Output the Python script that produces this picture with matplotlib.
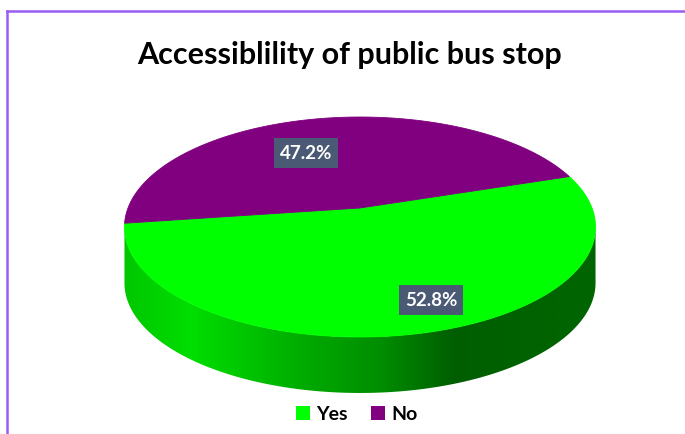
import numpy as np
import matplotlib.pyplot as plt
from matplotlib.patches import Polygon, Patch
from matplotlib.lines import Line2D
from matplotlib.colors import LinearSegmentedColormap, to_rgb

# data
labels = ['Yes', 'No']
shares = [52.8, 47.2]
colors = ['#00FF00', '#800080']
title = 'Accessiblility of public bus stop'

# where the value boxes sit (pixels)
label_xy = [(431, 301), (306, 154)]

W, H = 685, 435
fig = plt.figure(figsize=(W / 100, H / 100), dpi=100)
ax = fig.add_axes([0, 0, 1, 1])
ax.axis('off')

# pie geometry in pixels, with a bit of perspective (far side shrinks)
cx, cy = 360, 209
R, Rs, k = 232, 106.7, 0.1727
depth = 56
start = 188.0


def project(t_deg, r=1.0):
    t = np.radians(t_deg)
    u, v = r * np.cos(t), r * np.sin(t)
    w = 1 + k * v
    return cx + R * u / w, cy - Rs * v / w


# slice angles (counter-clockwise from start)
spans = np.array(shares) / sum(shares) * 360.0
edges = start + np.concatenate([[0], np.cumsum(spans)])

# visible part of the rim: between the left and right silhouette points
t_left = 180 + np.degrees(np.arcsin(k))
t_right = 360 - np.degrees(np.arcsin(k))
x_lo, _ = project(t_left)
x_hi, _ = project(t_right)

# shading across the rim, lit from the left
shade = [(0.0, 0.78), (0.14, 0.87), (0.37, 0.68), (0.55, 0.55),
         (0.70, 0.37), (1.0, 0.40)]

for i, c in enumerate(colors):
    a0, a1 = edges[i], edges[i + 1]
    # bring the visible window into this slice's range
    for off in (0, 360, -360):
        lo = max(a0, t_left + off)
        hi = min(a1, t_right + off)
        if hi <= lo:
            continue
        ts = np.linspace(lo, hi, 200)
        xs, ys = project(ts)
        pts = np.column_stack([np.r_[xs, xs[::-1]], np.r_[ys, ys[::-1] + depth]])
        poly = Polygon(pts, closed=True, fc='none', ec='none')
        ax.add_patch(poly)
        base = np.array(to_rgb(c))
        cmap = LinearSegmentedColormap.from_list(
            'rim%d' % i, [(p, tuple(base * b)) for p, b in shade])
        grad = np.linspace(0, 1, 512)[None, :]
        im = ax.imshow(grad, cmap=cmap, extent=[x_lo, x_hi, cy + Rs * 2 + depth, 0],
                       aspect='auto', interpolation='bilinear', zorder=1)
        im.set_clip_path(poly)

# top face
for i, c in enumerate(colors):
    ts = np.linspace(edges[i], edges[i + 1], 300)
    xs, ys = project(ts)
    pts = np.column_stack([np.r_[cx, xs], np.r_[cy, ys]])
    ax.add_patch(Polygon(pts, closed=True, fc=c, ec=c, lw=0.6, zorder=2))

# value boxes
for (x, y), s in zip(label_xy, shares):
    ax.text(x, y, '%.1f%%' % s, ha='center', va='center', color='white',
            fontsize=13.5, fontweight='bold', family='Lato', zorder=3,
            bbox=dict(boxstyle='square,pad=0.33', fc='#4A5A74', ec='none'))

ax.set_xlim(0, W)
ax.set_ylim(H, 0)

ax.text(350, 55, title, ha='center', va='center', fontsize=22,
        fontweight='bold', family='Lato', color='black')

handles = [Patch(fc=c, ec='none') for c in colors]
leg = ax.legend(handles, labels, loc='center', bbox_to_anchor=(357 / W, 1 - 415 / H),
                ncol=2, frameon=False, handlelength=0.7, handleheight=0.7,
                handletextpad=0.35, columnspacing=1.2,
                prop=dict(family='Lato', weight='bold', size=14))

# chart frame
frame = '#9B5CF2'
fig.add_artist(Line2D([7 / W, 7 / W], [0, 1 - 12 / H], color=frame, lw=1.8))
fig.add_artist(Line2D([7 / W, 1], [1 - 12 / H, 1 - 12 / H], color=frame, lw=1.8))

fig.savefig('out.png', dpi=100)
